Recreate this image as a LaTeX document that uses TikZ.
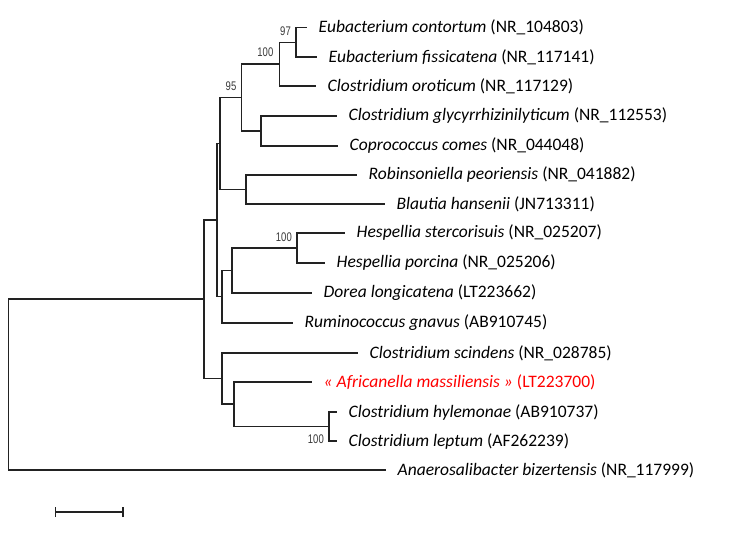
\documentclass[tikz,border=0pt]{standalone}
\usepackage{fontspec}
\setmainfont{Carlito}
\newfontfamily\bootfont[FakeStretch=0.76]{Liberation Sans}
\usetikzlibrary{positioning}

\begin{document}
\begin{tikzpicture}[
    every node/.style={font=\fontsize{17.5}{20}\selectfont},
    % pixel coordinates: x to the right, y downwards
    x=1pt, y=-1pt,
]

% ---------------------------------------------------------------- colours
\definecolor{linecolor}{HTML}{222222}
\definecolor{bootcolor}{HTML}{3A3A3A}
\definecolor{newred}{HTML}{FF0000}

\tikzset{
    branch/.style={linecolor, line width=1.4pt},
    leaf/.style={anchor=west, inner sep=0pt, xshift=11.5pt},
    boot/.style={font=\bootfont\fontsize{12.5}{13}\selectfont, text=bootcolor,
                 inner sep=0pt},
}

\useasboundingbox (0,0) rectangle (754,547);

% ---------------------------------------------------------------- tips
\foreach \t/\x/\y in {t1/307/27.5, t2/317/57, t3/316/86, t4/337/116,
    t5/338/146, t6/357/175, t7/385/204, t8/345/233, t9/325/263,
    t10/312/293, t11/293/323, t12/358/353, t13/312/382, t14/337/412,
    t15/337/441, t16/386/470} {
    \coordinate (\t) at (\x, \y);
}

% ---------------------------------------------------------------- inner nodes
\foreach \n/\x/\y in {n97/296/42.25, nOro/279.5/64, nGlc/261/131,
    n95/241.5/97.5, nRob/246/189.5, nA/220/143.5, nHsp/297/248,
    nDor/232/270.5, nRum/222/296.75, nB/217/220, nHyl/329/426.5,
    nAfr/234/404, nScn/222/378.5, nIn/204/299, root/8.3/384.5} {
    \coordinate (\n) at (\x, \y);
}

% ---------------------------------------------------------------- branches
\foreach \p/\c in {n97/t1, n97/t2, nOro/n97, nOro/t3, nGlc/t4, nGlc/t5,
    n95/nOro, n95/nGlc, nRob/t6, nRob/t7, nA/n95, nA/nRob,
    nHsp/t8, nHsp/t9, nDor/nHsp, nDor/t10, nRum/nDor, nRum/t11,
    nB/nA, nB/nRum, nHyl/t14, nHyl/t15, nAfr/t13, nAfr/nHyl,
    nScn/t12, nScn/nAfr, nIn/nB, nIn/nScn, root/nIn, root/t16} {
    \draw[branch] (\p) |- (\c);
}

% ---------------------------------------------------------------- leaves
\node[leaf] (l1) at (t1) {\textit{Eubacterium contortum} (NR\_104803)};
\node[leaf] (l2) at (t2) {\textit{Eubacterium fissicatena} (NR\_117141)};
\node[leaf] (l3) at (t3) {\textit{Clostridium oroticum} (NR\_117129)};
\node[leaf] (l4) at (t4) {\textit{Clostridium glycyrrhizinilyticum} (NR\_112553)};
\node[leaf] (l5) at (t5) {\textit{Coprococcus comes} (NR\_044048)};
\node[leaf] (l6) at (t6) {\textit{Robinsoniella peoriensis} (NR\_041882)};
\node[leaf] (l7) at (t7) {\textit{Blautia hansenii} (JN713311)};
\node[leaf] (l8) at (t8) {\textit{Hespellia stercorisuis} (NR\_025207)};
\node[leaf] (l9) at (t9) {\textit{Hespellia porcina} (NR\_025206)};
\node[leaf] (l10) at (t10) {\textit{Dorea longicatena} (LT223662)};
\node[leaf] (l11) at (t11) {\textit{Ruminococcus gnavus} (AB910745)};
\node[leaf] (l12) at (t12) {\textit{Clostridium scindens} (NR\_028785)};
\node[leaf, text=newred] (l13) at (t13)
    {\textit{« Africanella massiliensis »} (LT223700)};
\node[leaf] (l14) at (t14) {\textit{Clostridium hylemonae} (AB910737)};
\node[leaf] (l15) at (t15) {\textit{Clostridium leptum} (AF262239)};
\node[leaf] (l16) at (t16) {\textit{Anaerosalibacter bizertensis} (NR\_117999)};

% ---------------------------------------------------------------- bootstrap
\node[boot, anchor=south east, xshift=-5pt, yshift=6pt] (b97) at (n97) {97};
\node[boot, anchor=south east, xshift=-6pt, yshift=7pt] (bOro) at (nOro) {100};
\node[boot, anchor=south east, xshift=-5pt, yshift=7pt] (b95) at (n95) {95};
\node[boot, anchor=south east, xshift=-5pt, yshift=6pt] (bHsp) at (nHsp) {100};
\node[boot, anchor=north east, xshift=-5pt, yshift=-8pt] (bHyl) at (nHyl) {100};

% ---------------------------------------------------------------- scale bar
\coordinate (sb1) at (55.7, 512);
\coordinate (sb2) at (123, 512);
\draw[branch] (sb1) -- (sb2);
\draw[branch] ([yshift=-5pt]sb1) -- ([yshift=5pt]sb1);
\draw[branch] ([yshift=-5pt]sb2) -- ([yshift=5pt]sb2);

\end{tikzpicture}
\end{document}
